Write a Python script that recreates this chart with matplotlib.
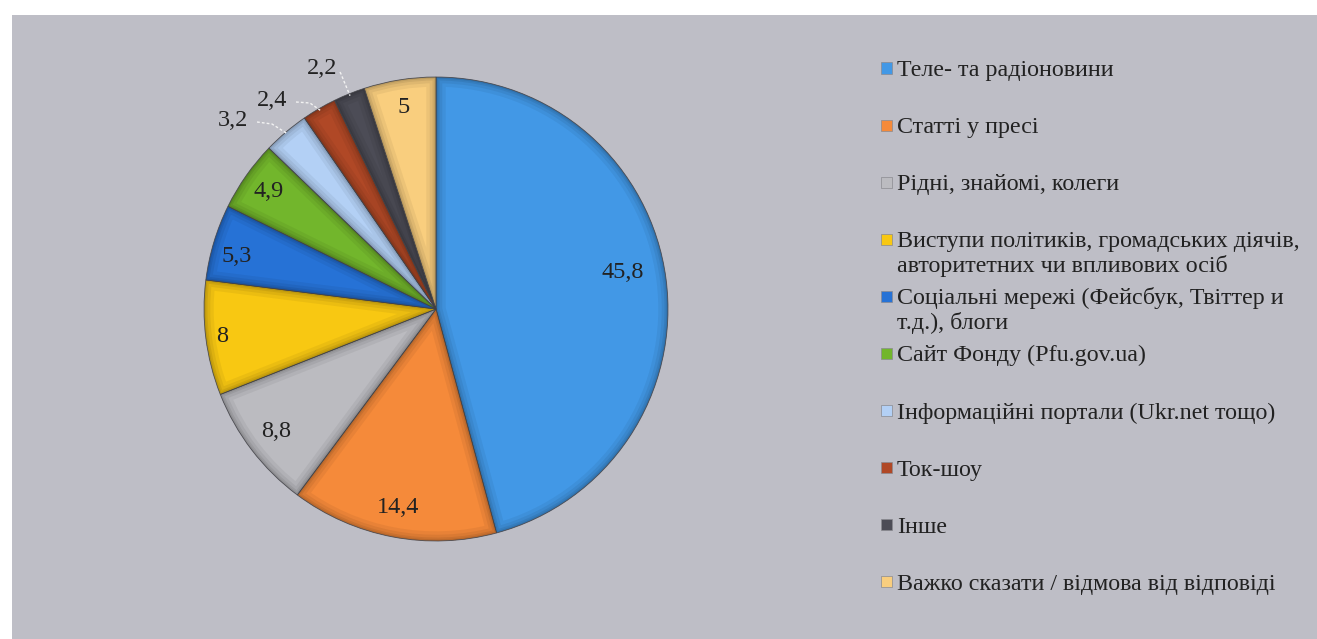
import numpy as np
import matplotlib
matplotlib.use("Agg")
import matplotlib.pyplot as plt
from matplotlib.patches import Rectangle, Wedge

# Sources of information (share of respondents, %)
categories = [
    "Теле- та радіоновини",
    "Статті у пресі",
    "Рідні, знайомі, колеги",
    "Виступи політиків, громадських діячів,\nавторитетних чи впливових осіб",
    "Соціальні мережі (Фейсбук, Твіттер и\nт.д.), блоги",
    "Сайт Фонду (Pfu.gov.ua)",
    "Інформаційні портали (Ukr.net тощо)",
    "Ток-шоу",
    "Інше",
    "Важко сказати / відмова від відповіді",
]
values = [45.8, 14.4, 8.8, 8.0, 5.3, 4.9, 3.2, 2.4, 2.2, 5.0]
colors = ["#4298E6", "#F58A3A", "#BBBBC0", "#F8C812", "#2672D6",
          "#72B62C", "#B3D0F5", "#B04826", "#4C4C56", "#F9CE7E"]

W, H = 1317, 639
fig = plt.figure(figsize=(W / 100, H / 100), dpi=100)
fig.patch.set_facecolor("white")
fig.add_artist(Rectangle((12 / W, 0), 1 - 12 / W, (H - 15) / H,
                         transform=fig.transFigure, facecolor="#BEBEC6",
                         edgecolor="none", zorder=0))

# Axes in pixel units (y pointing up)
ax = fig.add_axes([0, 0, 1, 1])
ax.set_facecolor("none")

cx, cy, R = 436, H - 309, 232
wedges, _ = ax.pie(values, colors=colors, startangle=90, counterclock=False,
                   center=(cx, cy), radius=R,
                   wedgeprops=dict(edgecolor="#5a5a60", linewidth=0.6))
ax.set_xlim(0, W)
ax.set_ylim(0, H)
ax.set_aspect("equal")
ax.axis("off")

# Soft bevel: inner shading along each slice border
for w in wedges:
    for lw, a in [(14, 0.05), (9, 0.06), (5, 0.07), (2.5, 0.08)]:
        sh = Wedge(w.center, w.r, w.theta1, w.theta2, facecolor="none",
                   edgecolor="black", linewidth=lw, alpha=a, zorder=w.get_zorder() + 0.1)
        ax.add_patch(sh)
        sh.set_clip_path(w)

font = dict(family=["Liberation Serif", "DejaVu Serif"], color="#222222")


def fmt(v):
    s = f"{v:.1f}".rstrip("0").rstrip(".")
    return s.replace(".", ",")


# Value labels: inside for larger slices, outside with leader lines for small ones
inside_r = [0.82, 0.87, 0.87, 0.93, 0.89, 0.88, None, None, None, 0.88]
inside_da = [3.5, 0, 0, 0, 2, 0, 0, 0, 0, 0]
outside_xy = {6: (233, 120), 7: (272, 100), 8: (322, 68)}
leader_mid = {6: (272, 124), 7: (310, 103), 8: (341, 74)}

for i, (w, v) in enumerate(zip(wedges, values)):
    mid = np.deg2rad((w.theta1 + w.theta2) / 2 + inside_da[i])
    if inside_r[i] is not None:
        r = inside_r[i] * R
        ax.text(cx + r * np.cos(mid), cy + r * np.sin(mid), fmt(v),
                ha="center", va="center", fontsize=17.5, zorder=6, **font)
    else:
        tx, ty = outside_xy[i]
        ax.text(tx, H - ty, fmt(v), ha="center", va="center",
                fontsize=17.5, zorder=6, **font)
        mid0 = np.deg2rad((w.theta1 + w.theta2) / 2)
        ex, ey = cx + (R - 2) * np.cos(mid0), cy + (R - 2) * np.sin(mid0)
        mx, my = leader_mid[i]
        sx = tx + 24 if i != 8 else tx + 18
        sy = ty + 2 if i != 8 else ty + 4
        ax.plot([sx, mx, ex], [H - sy, H - my, ey], color="#f2f2f2",
                lw=1.0, ls=(0, (2, 1.5)), zorder=5)

# Legend drawn as marker squares with wrapped text
lx, ly0, step = 881, 68, 57.1
for i, (lab, c) in enumerate(zip(categories, colors)):
    yc = ly0 + i * step
    fig.add_artist(Rectangle((lx / W, (H - yc - 5.5) / H), 11 / W, 11 / H,
                             transform=fig.transFigure, facecolor=c,
                             edgecolor="#8a8a90", linewidth=0.5))
    for k, line in enumerate(lab.split("\n")):
        ax.text(897, H - (yc + 8 + 25 * k), line, ha="left", va="baseline",
                fontsize=17.3, **font)

fig.savefig("out.png", dpi=100, facecolor=fig.get_facecolor())
